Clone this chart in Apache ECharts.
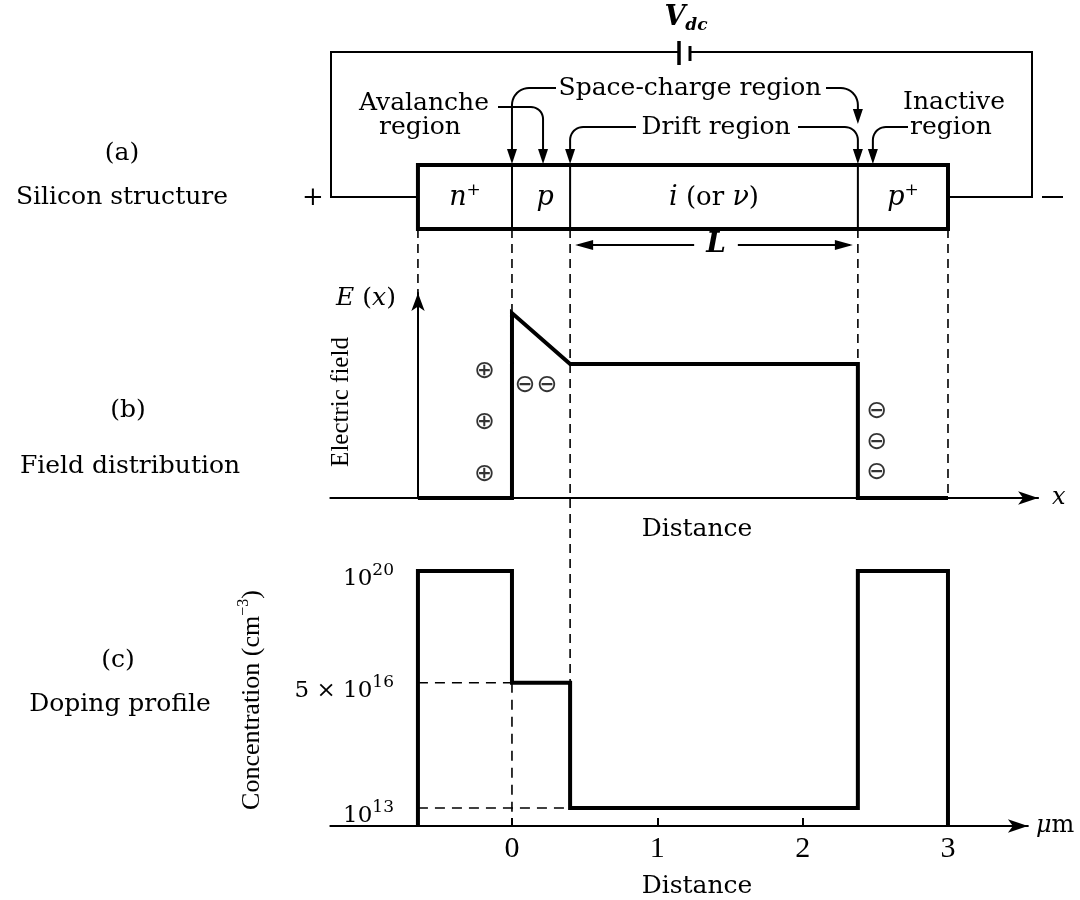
<!DOCTYPE html>
<html><head><meta charset="utf-8">
<script src="https://cdn.jsdelivr.net/npm/echarts@6/dist/echarts.min.js"></script>
<style>html,body{margin:0;padding:0;background:#fff}#c{width:1080px;height:900px}</style>
</head><body><div id="c"></div>
<script>
// ---------- data (positions in µm) ----------
const boundaries = [-0.647, 0, 0.40, 2.38, 3.0];          // n+ start, n+/p, p/i, i/p+, p+ end
const regionNames = ['n+', 'p', 'i (or ν)', 'p+'];
const fieldX = [-0.647, 0, 0, 0.40, 2.38, 2.38, 3.0];
const fieldE = [0, 0, 9.02, 6.54, 6.54, 0, 0];             // arbitrary units
const N_MIN = 2.94e12, N_MAX = 2.11e20;                     // doping axis extent (cm^-3)
const dopingX = [-0.647, -0.647, 0, 0, 0.40, 0.40, 2.38, 2.38, 3.0, 3.0];
const dopingN = [N_MIN, 1e20, 1e20, 5e16, 5e16, 1e13, 1e13, 1e20, 1e20, N_MIN];
const dopingTicks = [1e13, 5e16, 1e20];
const distanceTicks = [0, 1, 2, 3];
const plusChargesX = [-0.19, -0.19, -0.19];
const plusChargesE = [6.15, 3.66, 1.17];
const minusChargesX = [0.09, 0.24, 2.51, 2.51, 2.51];
const minusChargesE = [5.51, 5.51, 4.2, 2.73, 1.22];

// ---------- styles ----------
const SERIF = '"DejaVu Serif", serif';
const TIMES = '"Liberation Serif", serif';
const SANS = '"DejaVu Sans", sans-serif';
const BLACK = '#000';
const FS = 25;

const chart = echarts.init(document.getElementById('c'));
const zip = (a, b) => a.map((v, i) => [v, b[i]]);
const supFmt = v => {
  const e = Math.floor(Math.log10(v) + 1e-9);
  const m = Math.round(v / Math.pow(10, e));
  return '{b|' + (m !== 1 ? m + ' × ' : '') + '10}{s|' + e + '}';
};

chart.setOption({
  animation: false,
  backgroundColor: '#fff',
  grid: [
    { left: 330.3, top: 293, width: 707.8, height: 205 },
    { left: 330.3, top: 560, width: 697.6, height: 266 }
  ],
  xAxis: [
    { gridIndex: 0, type: 'value', min: -1.25, max: 3.62,
      axisLine: { show: true, lineStyle: { color: BLACK, width: 2 }, symbol: ['none', 'arrow'], symbolSize: [10, 20] },
      axisTick: { show: false }, axisLabel: { show: false }, splitLine: { show: false },
      name: 'x', nameLocation: 'end', nameGap: 14,
      nameTextStyle: { fontFamily: SERIF, fontStyle: 'italic', fontSize: 24, color: BLACK } },
    { gridIndex: 1, type: 'value', min: -1.25, max: 3.55,
      axisLine: { show: true, lineStyle: { color: BLACK, width: 2 }, symbol: ['none', 'arrow'], symbolSize: [10, 20] },
      axisTick: { show: true, inside: true, length: 8, customValues: distanceTicks, lineStyle: { color: BLACK, width: 2 } },
      axisLabel: { show: true, customValues: distanceTicks, margin: 8, fontFamily: TIMES, fontSize: 30, color: BLACK },
      splitLine: { show: false },
      name: '{i|μ}m', nameLocation: 'end', nameGap: 8,
      nameTextStyle: { fontFamily: SERIF, fontSize: 24, color: BLACK,
        rich: { i: { fontFamily: SERIF, fontStyle: 'italic', fontSize: 24, color: BLACK } } } }
  ],
  yAxis: [
    { gridIndex: 0, type: 'value', min: 0, max: 10, offset: -87.7,
      axisLine: { show: true, onZero: false, lineStyle: { color: BLACK, width: 2 }, symbol: ['none', 'arrow'], symbolSize: [10, 18] },
      axisTick: { show: false }, axisLabel: { show: false }, splitLine: { show: false } },
    { gridIndex: 1, type: 'log', logBase: 10, min: N_MIN, max: N_MAX, offset: -87.7,
      axisLine: { show: false, onZero: false }, axisTick: { show: false }, splitLine: { show: false },
      axisLabel: { show: true, customValues: dopingTicks, margin: 24, formatter: supFmt,
        padding: [16, 0, 0, 0],
        rich: {
          b: { fontFamily: SERIF, fontSize: 23, color: BLACK, lineHeight: 34 },
          s: { fontFamily: SERIF, fontSize: 17, color: BLACK, lineHeight: 16, verticalAlign: 'top' }
        } } }
  ],
  series: [
    { type: 'line', xAxisIndex: 0, yAxisIndex: 0, data: zip(fieldX, fieldE), symbol: 'none', clip: false,
      lineStyle: { color: BLACK, width: 4, join: 'miter' } },
    { type: 'line', xAxisIndex: 1, yAxisIndex: 1, data: zip(dopingX, dopingN), symbol: 'none', clip: false,
      lineStyle: { color: BLACK, width: 4, join: 'miter' } },
    { type: 'line', xAxisIndex: 1, yAxisIndex: 1, data: [[dopingX[0], dopingN[3]], [dopingX[2], dopingN[3]]],
      symbol: 'none', clip: false, lineStyle: { color: BLACK, width: 1.6, type: [10, 7] } },
    { type: 'line', xAxisIndex: 1, yAxisIndex: 1, data: [[dopingX[0], dopingN[5]], [dopingX[4], dopingN[5]]],
      symbol: 'none', clip: false, lineStyle: { color: BLACK, width: 1.6, type: [10, 7] } },
    { type: 'line', xAxisIndex: 1, yAxisIndex: 1, data: [[dopingX[2], dopingN[3]], [dopingX[2], N_MIN]],
      symbol: 'none', clip: false, lineStyle: { color: BLACK, width: 1.6, type: [10, 7] } },
    { type: 'scatter', xAxisIndex: 0, yAxisIndex: 0, data: zip(plusChargesX, plusChargesE), symbolSize: 1,
      itemStyle: { color: 'rgba(0,0,0,0)' },
      label: { show: true, position: 'inside', formatter: '⊕', fontFamily: SANS, fontSize: 25, color: BLACK } },
    { type: 'scatter', xAxisIndex: 0, yAxisIndex: 0, data: zip(minusChargesX, minusChargesE), symbolSize: 1,
      itemStyle: { color: 'rgba(0,0,0,0)' },
      label: { show: true, position: 'inside', formatter: '⊖', fontFamily: SANS, fontSize: 25, color: BLACK } }
  ]
});

// ---------- structure diagram & annotations, positioned from the same x scale ----------
const px = v => chart.convertToPixel({ xAxisIndex: 0 }, v);
const fpt = (x, y) => chart.convertToPixel({ xAxisIndex: 0, yAxisIndex: 0 }, [x, y]);
const dpt = (x, y) => chart.convertToPixel({ xAxisIndex: 1, yAxisIndex: 1 }, [x, y]);
const bx = boundaries.map(px);
const TOP = 165, BOT = 229, MID = 197;
const g = [];
const line = (x1, y1, x2, y2, w, dash) => g.push({ type: 'line', silent: true,
  shape: { x1, y1, x2, y2 }, style: { stroke: BLACK, lineWidth: w, lineDash: dash || null } });
const poly = (pts, w) => g.push({ type: 'polyline', silent: true, shape: { points: pts },
  style: { stroke: BLACK, lineWidth: w, fill: null } });
const head = (x, y, dir) => {
  let pts;
  if (dir === 'down') pts = [[x - 5, y - 15], [x + 5, y - 15], [x, y]];
  else if (dir === 'left') pts = [[x, y], [x + 18, y - 5], [x + 18, y + 5]];
  else pts = [[x, y], [x - 18, y - 5], [x - 18, y + 5]];
  g.push({ type: 'polygon', silent: true, shape: { points: pts }, style: { fill: BLACK } });
};
const text = (t, x, y, opt) => g.push({ type: 'text', silent: true, x, y, rotation: (opt && opt.rot) || 0,
  style: Object.assign({ text: t, fill: BLACK, fontFamily: SERIF, fontSize: FS,
    align: 'center', verticalAlign: 'middle' }, opt && opt.style) });
const hook = (x0, y0, xv, r, tipY) => {
  const dir = xv > x0 ? 1 : -1;
  const pts = [[x0, y0]];
  const cx = xv - dir * r, cy = y0 + r;
  for (let i = 0; i <= 10; i++) {
    const t = (i / 10) * Math.PI / 2;
    pts.push([cx + dir * r * Math.sin(t), cy - r * Math.cos(t)]);
  }
  pts.push([xv, tipY - 10]);
  poly(pts, 2);
  head(xv, tipY, 'down');
};

// silicon bar
g.push({ type: 'rect', silent: true, shape: { x: bx[0], y: TOP, width: bx[4] - bx[0], height: BOT - TOP },
  style: { stroke: BLACK, lineWidth: 4, fill: null } });
[1, 2, 3].forEach(i => line(bx[i], TOP, bx[i], BOT, 2));
// region labels
const baseS = { fontFamily: SERIF, fontStyle: 'italic', fontSize: 27, color: BLACK, lineHeight: 32 };
const supS = { fontFamily: SERIF, fontSize: 17, color: BLACK, verticalAlign: 'top', lineHeight: 16 };
const regionRich = ['{i|n}{s|+}', '{i|p}', '{i|i}{r| (or }{i|ν}{r|)}', '{i|p}{s|+}'];
regionRich.forEach((r, k) => text(r, (bx[k] + bx[k + 1]) / 2 + (k === 1 ? 4 : 0), MID + 1, { style: {
  rich: { i: baseS, s: supS, r: { fontFamily: SERIF, fontSize: 26, color: BLACK, lineHeight: 32 } } } }));

// circuit wires and battery
const WY = 52, WL = 331, WR = 1032, B1 = 679, B2 = 690;
poly([[bx[0], MID], [WL, MID], [WL, WY], [B1, WY]], 2);
poly([[B2, WY], [WR, WY], [WR, MID], [bx[4], MID]], 2);
line(B1, 41, B1, 65, 3.5);
line(B2, 46, B2, 61, 3);
text('{v|V}{s|dc}', 686, 18, { style: { rich: {
  v: { fontFamily: SERIF, fontStyle: 'italic', fontWeight: 'bold', fontSize: 27, color: BLACK, lineHeight: 32 },
  s: { fontFamily: SERIF, fontStyle: 'italic', fontWeight: 'bold', fontSize: 17, color: BLACK, lineHeight: 14, verticalAlign: 'bottom' } } } });
text('+', 313, MID + 1, { style: { fontSize: 26 } });
line(1042, MID, 1063, MID, 2);

// L dimension
const LY = 245;
line(bx[2] + 8, LY, bx[3] - 8, LY, 2);
head(bx[2] + 5, LY, 'left');
head(bx[3] - 5, LY, 'right');
text('L', (bx[2] + bx[3]) / 2 + 2, LY, { style: { fontStyle: 'italic', fontWeight: 'bold', fontSize: 28,
  backgroundColor: '#fff', padding: [0, 12, 0, 12] } });

// annotation labels + hooked arrows
text('Avalanche', 424, 103);
text('region', 420, 127);
text('Space-charge region', 690, 88);
text('Drift region', 716, 127);
text('Inactive', 954, 102);
text('region', 951, 127);
const tip = TOP - 1;
hook(498, 107, (bx[1] + bx[2]) / 2 + 2, 12, tip);      // avalanche -> p region
hook(556, 88, bx[1], 17, tip);                          // space-charge -> left edge
hook(636, 127, bx[2], 13, tip);                         // drift -> left edge
hook(826, 88, bx[3], 17, 124);                          // space-charge -> right edge
hook(798, 127, bx[3], 13, tip);                         // drift -> right edge
hook(908, 127, bx[3] + 15, 13, tip);                    // inactive

// projection dashed lines
const DASH = [9, 6];
line(bx[0], BOT, bx[0], fpt(fieldX[0], 10)[1], 1.6, DASH);
line(bx[1], BOT, bx[1], fpt(fieldX[2], fieldE[2])[1], 1.6, DASH);
line(bx[2], BOT, bx[2], dpt(dopingX[4], dopingN[4])[1], 1.6, DASH);
line(bx[3], BOT, bx[3], fpt(fieldX[4], fieldE[4])[1], 1.6, DASH);
line(bx[4], BOT, bx[4], fpt(fieldX[6], 0)[1], 1.6, DASH);

// panel titles and axis texts
text('(a)', 122, 153);
text('Silicon structure', 122, 197);
text('(b)', 128, 410);
text('Field distribution', 130, 466);
text('(c)', 118, 660);
text('Doping profile', 120, 704);
text('{i|E}{r| (}{i|x}{r|)}', 366, 298, { style: { rich: {
  i: { fontFamily: SERIF, fontStyle: 'italic', fontSize: 25, color: BLACK },
  r: { fontFamily: SERIF, fontSize: 25, color: BLACK } } } });
text('Electric field', 341, 402, { rot: Math.PI / 2, style: { fontFamily: TIMES, fontSize: 25 } });
text('{a|Concentration (cm}{s|−3}{a|)}', 252, 700, { rot: Math.PI / 2, style: { rich: {
  a: { fontFamily: TIMES, fontSize: 26, color: BLACK, lineHeight: 32 },
  s: { fontFamily: TIMES, fontSize: 16, color: BLACK, lineHeight: 14, verticalAlign: 'top' } } } });
text('Distance', 697, 529);
text('Distance', 697, 886);

chart.setOption({ graphic: g });
</script>
</body></html>
